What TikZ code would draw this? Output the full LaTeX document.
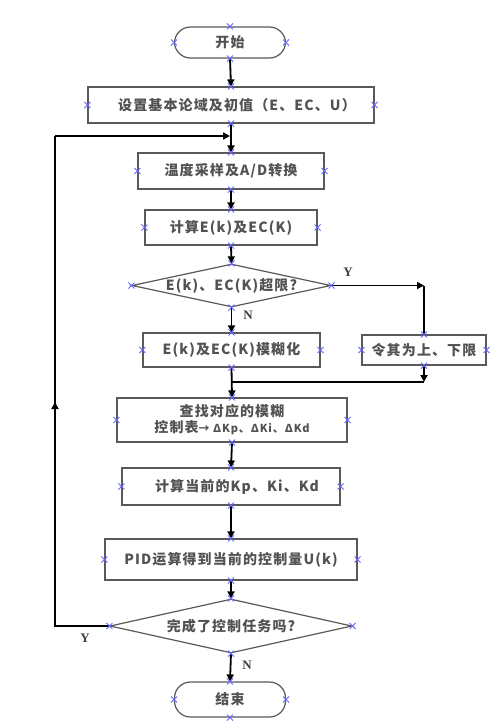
\documentclass[tikz,border=0pt]{standalone}
\usepackage{fontspec}
\setmainfont{Liberation Serif}
\newfontfamily\cjk{Noto Sans CJK SC}[LetterSpace=8]
\usetikzlibrary{arrows.meta,shapes.geometric,calc}
\newcommand\xmarks[1]{\foreach \a in {north,south,east,west}{\draw[xmk] ($(#1.\a)+(-3,-3)$) -- ++(6,6) ($(#1.\a)+(-3,3)$) -- ++(6,-6);}}
\begin{document}
\begin{tikzpicture}[x=1pt,y=-1pt,
 box/.style={draw=black!65, line width=1.2pt, rectangle, inner sep=0pt, font=\cjk\bfseries\fontsize{14}{16}\selectfont, text=black!68, align=center},
 term/.style={box, rounded corners=16pt},
 dia/.style={draw=black!65, line width=1.2pt, diamond, inner sep=0pt},
 txt/.style={font=\cjk\bfseries\fontsize{14}{16}\selectfont, text=black!68, inner sep=0pt},
 arr/.style={line width=1.8pt, -{Triangle[length=7pt,width=7pt]}},
 ln/.style={line width=1.8pt},
 lab/.style={font=\bfseries\fontsize{13}{15}\selectfont, text=black!75},
 xmk/.style={draw=blue!60!white, line width=0.9pt}]
\useasboundingbox (0,0) rectangle (500,723);
\fill[white] (0,0) rectangle (500,723);
% nodes
\node[term, minimum width=111pt, minimum height=31pt] (st) at (230,42.5) {开始};
\node[box, minimum width=286pt, minimum height=36pt] (b1) at (231,105) {\hspace{12pt}设置基本论域及初值（E、EC、U）};
\node[box, minimum width=186pt, minimum height=36pt] (b2) at (231,171) {温度采样及A/D转换};
\node[box, minimum width=172pt, minimum height=35pt] (b3) at (231,227.5) {计算E(k)及EC(K)};
\node[dia, minimum width=199pt, minimum height=43pt] (d1) at (231.5,285.5) {};
\node[txt] (t1) at (231.5,285.5) {E(k)、EC(K)超限?};
\node[box, minimum width=177pt, minimum height=34pt] (b4) at (231.5,350) {E(k)及EC(K)模糊化};
\node[box, minimum width=124pt, minimum height=30pt] (b5) at (424,350) {令其为上、下限};
\node[box, minimum width=230pt, minimum height=44pt] (b6) at (232,420) {查找对应的模糊\\控制表{\fontsize{11}{13}\selectfont → ΔKp、ΔKi、ΔKd}};
\node[box, minimum width=218pt, minimum height=37pt] (b7) at (231,486.5) {\hspace{12pt}计算当前的Kp、Ki、Kd};
\node[box, minimum width=252pt, minimum height=41pt] (b8) at (231,559.5) {PID运算得到当前的控制量U(k)};
\node[dia, minimum width=242pt, minimum height=54pt] (d2) at (231,626) {};
\node[txt] (t2) at (231,626) {完成了控制任务吗?};
\node[term, minimum width=111pt, minimum height=35pt] (en) at (230,699.5) {结束};
% labels
\node[lab] (ly1) at (348,272) {Y};
\node[lab] (ln1) at (248,315) {N};
\node[lab] (ly2) at (85,638) {Y};
\node[lab] (ln2) at (247,665) {N};
% helper coordinates
\coordinate (c1) at (424,285.5);
\coordinate (m1) at (424,382);
\coordinate (m2) at (231.5,382);
\coordinate (lc1) at (55,626);
\coordinate (lc2) at (55,136);
\coordinate (la) at (55,402);
\coordinate (j1) at (230,136);
% connectors
\draw[arr] (st.south) -- (b1.north);
\draw[arr] (b1.south) -- (b2.north);
\draw[arr] (b2.south) -- (b3.north);
\draw[arr] (b3.south) -- (d1.north);
\draw[arr] (d1.south) -- (b4.north);
\draw[arr] (d1.east) -- (c1);
\draw[ln] (c1) -- (b5.north);
\draw[arr] (b5.south) -- (m1);
\draw[ln] (m1) -- (m2);
\draw[arr] (b4.south) -- (b6.north);
\draw[arr] (b6.south) -- (b7.north);
\draw[arr] (b7.south) -- (b8.north);
\draw[arr] (b8.south) -- (d2.north);
\draw[arr] (d2.south) -- (en.north);
\draw[ln] (d2.west) -- (lc1) -- (lc2);
\draw[arr] (lc2) -- (j1);
\draw[arr] (lc1) -- (la);
% connection marks
\xmarks{st}\xmarks{b1}\xmarks{b2}\xmarks{b3}\xmarks{d1}\xmarks{b4}\xmarks{b5}
\xmarks{b6}\xmarks{b7}\xmarks{b8}\xmarks{d2}\xmarks{en}
\end{tikzpicture}
\end{document}
